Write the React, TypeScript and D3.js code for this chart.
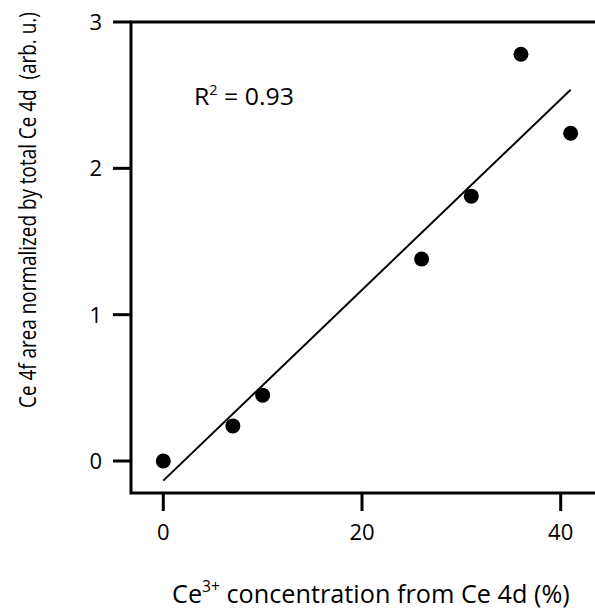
import React, { useEffect, useRef } from "react";
import * as d3 from "d3";

// Ce3+ concentration (%) vs normalized Ce 4f area
const ce3Percent = [0, 7, 10, 26, 31, 36, 41];
const ce4fArea = [0, 0.24, 0.45, 1.38, 1.81, 2.78, 2.24];
const xTicks = [0, 20, 40];
const yTicks = [0, 1, 2, 3];
const rSquared = "0.93";

const App = () => {
  const svgRef = useRef<SVGSVGElement | null>(null);

  useEffect(() => {
    if (!svgRef.current) return;
    const svg = d3.select(svgRef.current);
    svg.selectAll("*").remove();

    const width = 595;
    const height = 611;
    const font = "'Open Sans', 'Noto Sans', sans-serif";

    // frame edges
    const left = 131;
    const top = 22;
    const bottom = 493;

    const x = d3.scaleLinear().domain([0, 40]).range([163.3, 560.7]);
    const y = d3.scaleLinear().domain([0, 3]).range([461, 22]);

    svg.attr("width", width).attr("height", height);

    // squeeze a text horizontally so it spans `target` px
    const fitWidth = (t: d3.Selection<SVGTextElement, unknown, null, undefined>, target: number) => {
      const w = (t.node() as SVGTextElement).getComputedTextLength();
      return w > 0 ? target / w : 1;
    };

    // axis frame (left, top, bottom)
    svg.append("path")
      .attr("d", `M${width},${top}H${left}V${bottom}H${width}`)
      .attr("fill", "none")
      .attr("stroke", "#000")
      .attr("stroke-width", 3);

    // y ticks
    const yg = svg.append("g");
    yTicks.forEach((t) => {
      yg.append("line")
        .attr("x1", left - 18).attr("x2", left)
        .attr("y1", y(t)).attr("y2", y(t))
        .attr("stroke", "#000").attr("stroke-width", 3);
      yg.append("text")
        .attr("x", 102).attr("y", y(t))
        .attr("dy", "0.36em")
        .attr("text-anchor", "end")
        .attr("font-family", font)
        .attr("font-size", 22)
        .text(String(t));
    });

    // x ticks
    const xg = svg.append("g");
    xTicks.forEach((t) => {
      xg.append("line")
        .attr("x1", x(t)).attr("x2", x(t))
        .attr("y1", bottom).attr("y2", bottom + 18)
        .attr("stroke", "#000").attr("stroke-width", 3);
      xg.append("text")
        .attr("x", x(t)).attr("y", 540)
        .attr("text-anchor", "middle")
        .attr("font-family", font)
        .attr("font-size", 22)
        .text(String(t));
    });

    // linear fit
    const pts = ce3Percent.map((v, i) => [v, ce4fArea[i]] as [number, number]);
    const mx = d3.mean(ce3Percent) as number;
    const my = d3.mean(ce4fArea) as number;
    const sxy = d3.sum(pts, (p) => (p[0] - mx) * (p[1] - my));
    const sxx = d3.sum(pts, (p) => (p[0] - mx) ** 2);
    const slope = sxy / sxx;
    const intercept = my - slope * mx;
    const ext = d3.extent(ce3Percent) as [number, number];
    const line = d3.line<number>().x((v) => x(v)).y((v) => y(intercept + slope * v));
    svg.append("path")
      .attr("d", line(ext))
      .attr("fill", "none")
      .attr("stroke", "#000")
      .attr("stroke-width", 2);

    // points
    svg.append("g")
      .selectAll("circle")
      .data(pts)
      .enter()
      .append("circle")
      .attr("cx", (d) => x(d[0]))
      .attr("cy", (d) => y(d[1]))
      .attr("r", 7.5)
      .attr("fill", "#000");

    // R^2 annotation
    const rt = svg.append("text")
      .attr("font-family", font)
      .attr("font-size", 24);
    rt.append("tspan").text("R");
    rt.append("tspan").attr("font-size", 14).attr("dy", -10).text("2");
    rt.append("tspan").attr("dy", 10).text(` = ${rSquared}`);
    rt.attr("transform", `translate(194, 105) scale(${fitWidth(rt, 100)}, 1)`);

    // x title
    const xt = svg.append("text")
      .attr("font-family", font)
      .attr("font-size", 26);
    xt.append("tspan").text("Ce");
    xt.append("tspan").attr("font-size", 16).attr("dy", -11).text("3+");
    xt.append("tspan").attr("dy", 11).text(" concentration from Ce 4d (%)");
    xt.attr("transform", `translate(172, 603) scale(${fitWidth(xt, 398)}, 1)`);

    // y title
    const ytl = svg.append("text")
      .attr("font-family", font)
      .attr("font-size", 24)
      .attr("xml:space", "preserve")
      .text("Ce 4f area normalized by total Ce 4d  (arb. u.)");
    ytl.attr("transform", `translate(36, 408) rotate(-90) scale(${fitWidth(ytl, 396)}, 1)`);
  }, []);

  return (
    <svg ref={svgRef} style={{ position: "absolute", left: 0, top: 0 }}></svg>
  );
};

export default App;
